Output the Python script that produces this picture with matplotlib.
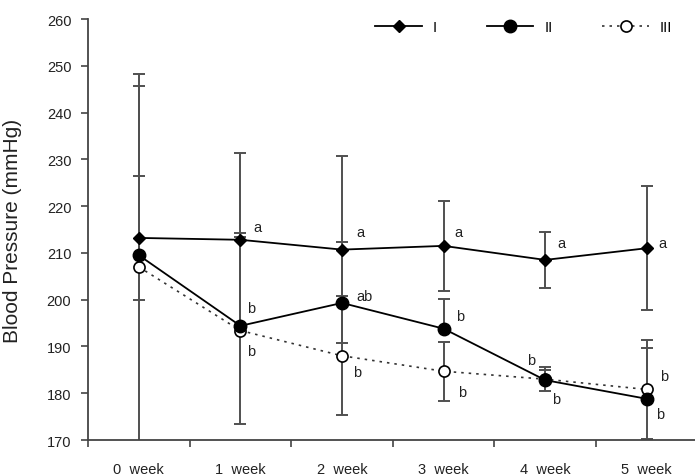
import matplotlib
matplotlib.use("Agg")
import matplotlib.pyplot as plt
import numpy as np
from matplotlib.ticker import FixedLocator

plt.rcParams['font.family'] = ['Liberation Sans', 'DejaVu Sans']

weeks = ["0  week", "1  week", "2  week", "3  week", "4  week", "5  week"]
series_names = ["I", "II", "III"]
mean_I = [213.2, 212.8, 210.7, 211.5, 208.5, 211.0]
err_I = [13.2, 18.6, 20.0, 9.6, 6.0, 13.3]
mean_II = [209.5, 194.4, 199.3, 193.8, 182.8, 178.8]
err_II_up = [36.2, 19.9, 13.0, 6.3, 2.2, 10.9]
mean_III = [207.0, 193.4, 188.0, 184.7, 183.0, 180.8]
err_III = [41.2, 20.0, 12.7, 6.3, 2.5, 10.6]
letters_I = ["", "a", "a", "a", "a", "a"]
letters_II = ["", "b", "ab", "b", "b", "b"]
letters_III = ["", "b", "b", "b", "b", "b"]

fig = plt.figure(figsize=(6.95, 4.77), dpi=100)
ax = fig.add_axes([88/695, 1-441/477, 609.6/695, 421/477])
x = np.arange(len(weeks))

ecol = '#505050'
ekw = dict(fmt='none', ecolor=ecol, elinewidth=1.4, capsize=4, capthick=1.4, zorder=2)
ax.errorbar(x, mean_III, yerr=err_III, **ekw)
ax.errorbar(x, mean_II, yerr=[np.zeros(len(x)), err_II_up], **ekw)
ax.errorbar(x, mean_I, yerr=err_I, **ekw)

l3, = ax.plot(x, mean_III, color='#333333', ls=(0, (1.5, 3)), lw=1.2, marker='o', ms=8,
              mfc='white', mec='black', mew=1.2, zorder=3, label=series_names[2])
l2, = ax.plot(x, mean_II, color='black', lw=1.3, marker='o', ms=9, mfc='black', mec='black', zorder=4,
              label=series_names[1])
l1, = ax.plot(x, mean_I, color='black', lw=1.3, marker='D', ms=6.5, mfc='black', mec='black', zorder=5,
              label=series_names[0])

# significance letters (offsets in points)
offs_I = [(0, 0), (12, 9), (13.5, 12.5), (11, 10), (12, 12.5), (11, 4)]
offs_II = [(0, 0), (8, 13), (16.5, 5), (12, 9), (-10, 14.5), (9.5, -11)]
offs_III = [(0, 0), (8, -14.5), (11, -12), (13, -15), (8, -14), (12.5, 10)]
for vals, labs, offs in [(mean_I, letters_I, offs_I), (mean_II, letters_II, offs_II), (mean_III, letters_III, offs_III)]:
    for xi, v, t, o in zip(x, vals, labs, offs):
        if t:
            ax.annotate(t, (xi, v), xytext=o, textcoords='offset points', fontsize=10.5,
                        ha='center', va='center', color='#222222')

ax.set_xlim(-0.5, 5.5)
ax.set_ylim(170, 260)
ax.set_yticks(np.arange(170, 261, 10))
ax.set_xticks(x)
ax.set_xticklabels(weeks, fontsize=10.5, color='#222222')
ax.xaxis.set_minor_locator(FixedLocator(np.arange(-0.5, 5.6, 1)))
ax.tick_params(axis='x', which='major', length=0, pad=16)
ax.tick_params(axis='x', which='minor', length=5, width=1.2, direction='out', color='#444444')
ax.tick_params(axis='y', length=5, width=1.2, direction='out', color='#444444', labelsize=10.5,
               pad=7, labelcolor='#222222')
for s in ['top', 'right']:
    ax.spines[s].set_visible(False)
for s in ['left', 'bottom']:
    ax.spines[s].set_linewidth(1.3)
    ax.spines[s].set_color('#444444')

ax.set_ylabel("Blood Pressure (mmHg)", fontsize=15, color='#222222')
ax.yaxis.set_label_coords(-66/609.6, 0.5)

leg = ax.legend(handles=[l1, l2, l3], loc='center right', ncol=3, frameon=False, fontsize=10.5,
                handlelength=3.2, columnspacing=3.4, handletextpad=0.75, borderaxespad=0,
                bbox_to_anchor=((678-88)/609.6, (441-28)/421))

fig.savefig("out.png", dpi=100)
